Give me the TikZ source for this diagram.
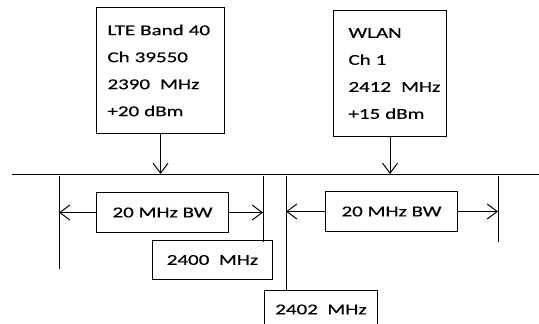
\documentclass[tikz,border=0pt]{standalone}
\usepackage{fontspec}
\setmainfont{Carlito}[FakeStretch=1.4,FakeBold=0.5]
\usetikzlibrary{arrows.meta}

\tikzset{
  tip/.style={-{Straight Barb[length=10pt,width=15pt]}},
  infobox/.style={draw, line width=1pt, anchor=north west, align=left,
    inner xsep=15pt, minimum height=126pt,
    font=\fontsize{15}{27}\selectfont},
  labelbox/.style={draw, line width=1pt, anchor=north west,
    font=\fontsize{15}{17}\selectfont}
}

\begin{document}
\begin{tikzpicture}[x=1pt,y=-1pt,line width=1pt]
                \clip (0,0) rectangle (539,324);
                % source boxes
                \node[infobox, text width=106pt, inner xsep=11pt] (lte) at (96,7)
                  {LTE Band 40\\Ch 39550\\2390~~MHz\\+20 dBm};
                \node[infobox, text width=83pt] (wlan) at (333,10)
                  {WLAN\\Ch 1\\2412~~MHz\\+15 dBm};
                % frequency axis
                \coordinate (axl) at (12,174);
                \coordinate (axr) at (539,174);
                \draw (axl) -- (axr);
                \draw[tip] (lte.south) -- (lte.south |- axl);
                \draw[tip] (wlan.south) -- (wlan.south |- axl);
                % band edges
                \coordinate (e1) at (59,176);
                \coordinate (e2) at (263,176);
                \coordinate (e3) at (286,176);
                \coordinate (e4) at (498,176);
                \draw (e1) -- (59,269);
                \draw (e2) -- (263,242);
                \draw (e4) -- (498,242);
                % bandwidth labels
                \node[labelbox, minimum width=132pt, minimum height=40pt] (bwlte) at (96,192) {20 MHz BW};
                \node[labelbox, minimum width=132pt, minimum height=40pt] (bwwlan) at (325,191) {20 MHz BW};
                \draw[tip] (bwlte.west) -- (bwlte.west -| e1);
                \draw[tip] (bwlte.east) -- (bwlte.east -| e2);
                \draw[tip] (bwwlan.west) -- (bwwlan.west -| e3);
                \draw[tip] (bwwlan.east) -- (bwwlan.east -| e4);
                % edge frequencies
                \node[labelbox, minimum width=120pt, minimum height=39pt] (f2400) at (152,240) {2400~~MHz};
                \node[labelbox, minimum width=113pt, minimum height=38pt] (f2402) at (264,290) {2402~~MHz};
                \draw (e3) -- (e3 |- f2402.north);
\end{tikzpicture}
\end{document}
